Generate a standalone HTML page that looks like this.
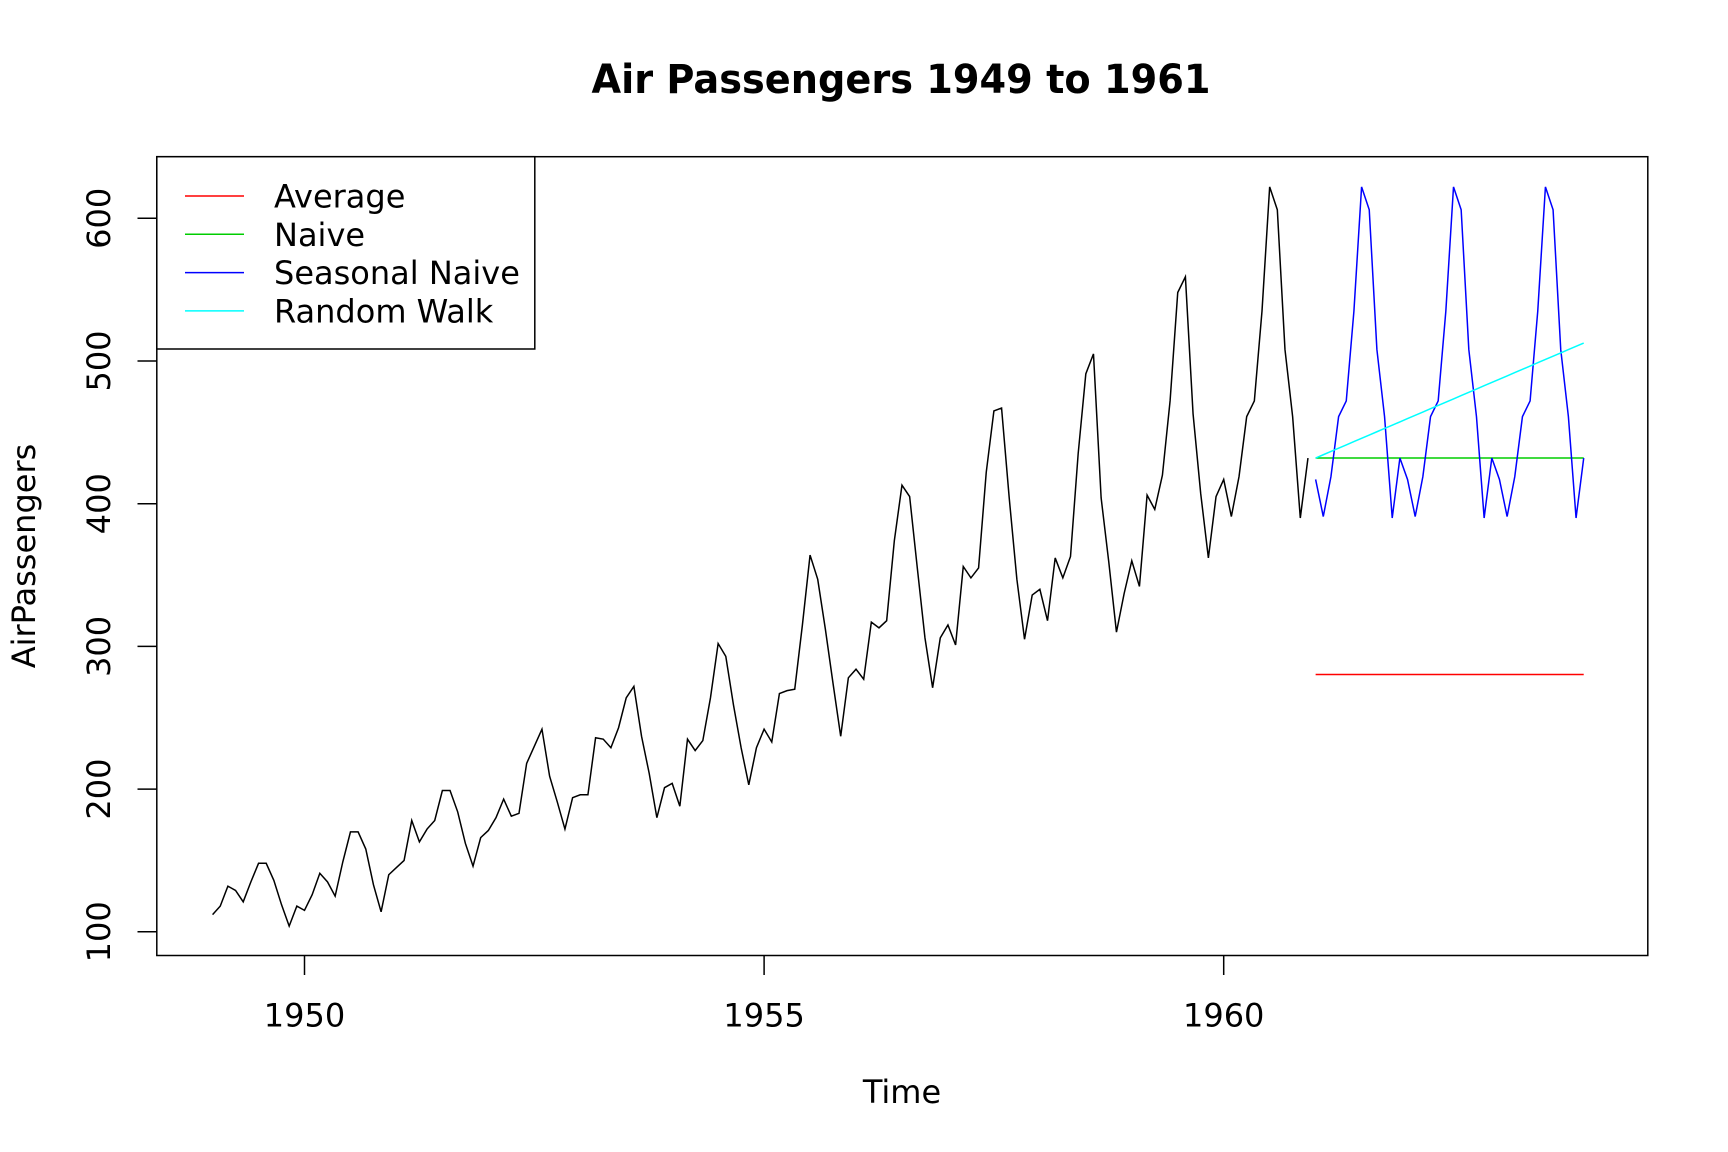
<!DOCTYPE html>
<html><head><meta charset="utf-8"><style>
html,body{margin:0;padding:0;background:#fff;}
svg{display:block;font-family:"DejaVu Sans","Liberation Sans",sans-serif;}
</style></head><body>
<svg id="chart" width="1728" height="1152" viewBox="0 0 1728 1152" xmlns="http://www.w3.org/2000/svg">
<rect width="1728" height="1152" fill="#fff"/>
<text x="901" y="93" text-anchor="middle" font-size="40" font-weight="bold" textLength="619" lengthAdjust="spacingAndGlyphs">Air Passengers 1949 to 1961</text>
<g id="marks"></g>
<rect x="156.8" y="156.7" width="1491" height="798.8" fill="none" stroke="#000" stroke-width="1.5"/>
<g id="axes"></g>
<text x="902" y="1103" text-anchor="middle" font-size="32">Time</text>
<text x="0" y="0" transform="translate(35,556) rotate(-90)" text-anchor="middle" font-size="32">AirPassengers</text>
<g>
<rect x="156.8" y="156.7" width="378" height="192.3" fill="#fff" stroke="#000" stroke-width="1.5"/>
<g id="legend-entries"></g>
</g>
</svg>
<script>
const years = [1949,1950,1951,1952,1953,1954,1955,1956,1957,1958,1959,1960];
const passengers = [
112,118,132,129,121,135,148,148,136,119,104,118,
115,126,141,135,125,149,170,170,158,133,114,140,
145,150,178,163,172,178,199,199,184,162,146,166,
171,180,193,181,183,218,230,242,209,191,172,194,
196,196,236,235,229,243,264,272,237,211,180,201,
204,188,235,227,234,264,302,293,259,229,203,229,
242,233,267,269,270,315,364,347,312,274,237,278,
284,277,317,313,318,374,413,405,355,306,271,306,
315,301,356,348,355,422,465,467,404,347,305,336,
340,318,362,348,363,435,491,505,404,359,310,337,
360,342,406,396,420,472,548,559,463,407,362,405,
417,391,419,461,472,535,622,606,508,461,390,432];
const horizon = 36;
const averageForecast = [280.3];
const naiveForecast = [432];
const seasonalLastYear = [417,391,419,461,472,535,622,606,508,461,390,432];
const randomWalkStart = [432];
const randomWalkEnd = [512.6];
const xTicks = [1950,1955,1960];
const yTicks = [100,200,300,400,500,600];
const legendLabels = ["Average","Naive","Seasonal Naive","Random Walk"];
const legendColors = ["#ff0000","#00cd00","#0000ff","#00ffff"];

const NS="http://www.w3.org/2000/svg";
function X(t){return 304.5+(t-1950)*91.92;}
function Y(v){return 931.8-(v-100)*1.427;}
const marks=document.getElementById('marks');
const axes=document.getElementById('axes');
function poly(pts,color,name){
  const p=document.createElementNS(NS,'polyline');
  p.setAttribute('points',pts.map(q=>X(q[0]).toFixed(2)+','+Y(q[1]).toFixed(2)).join(' '));
  p.setAttribute('fill','none');p.setAttribute('stroke',color);p.setAttribute('stroke-width','1.5');
  
  
  marks.appendChild(p);
}
const start=years[0];
poly(passengers.map((v,i)=>[start+i/12,v]),'#000','air-passengers-line');
const t0=start+passengers.length/12;
const fT=[];for(let h=0;h<horizon;h++)fT.push(t0+h/12);
poly(fT.map(t=>[t,averageForecast[0]]),'#ff0000','average-forecast-line');
poly(fT.map(t=>[t,naiveForecast[0]]),'#00cd00','naive-forecast-line');
poly(fT.map((t,h)=>[t,seasonalLastYear[h%12]]),'#0000ff','seasonal-naive-forecast-line');
poly(fT.map((t,h)=>[t,randomWalkStart[0]+(randomWalkEnd[0]-randomWalkStart[0])*h/(horizon-1)]),'#00ffff','random-walk-forecast-line');

xTicks.forEach(t=>{
  const l=document.createElementNS(NS,'line');
  l.setAttribute('x1',X(t));l.setAttribute('x2',X(t));l.setAttribute('y1',955.5);l.setAttribute('y2',975);
  l.setAttribute('stroke','#000');l.setAttribute('stroke-width','1.5');
  
  
  axes.appendChild(l);
  const tx=document.createElementNS(NS,'text');
  tx.setAttribute('x',X(t));tx.setAttribute('y',1026.5);tx.setAttribute('text-anchor','middle');tx.setAttribute('font-size','32');
  tx.textContent=t;
  
  
  axes.appendChild(tx);
});
yTicks.forEach(v=>{
  const l=document.createElementNS(NS,'line');
  l.setAttribute('x1',137.5);l.setAttribute('x2',156.8);l.setAttribute('y1',Y(v));l.setAttribute('y2',Y(v));
  l.setAttribute('stroke','#000');l.setAttribute('stroke-width','1.5');
  
  
  axes.appendChild(l);
  const tx=document.createElementNS(NS,'text');
  tx.setAttribute('transform','translate(110,'+Y(v)+') rotate(-90)');
  tx.setAttribute('text-anchor','middle');tx.setAttribute('font-size','32');
  tx.textContent=v;
  
  
  axes.appendChild(tx);
});
const lg=document.getElementById('legend-entries');
legendLabels.forEach((lab,i)=>{
  const y=196+i*38.3;
  const l=document.createElementNS(NS,'line');
  l.setAttribute('x1',185);l.setAttribute('x2',244);l.setAttribute('y1',y);l.setAttribute('y2',y);
  l.setAttribute('stroke',legendColors[i]);l.setAttribute('stroke-width','1.5');
  
  
  lg.appendChild(l);
  const tx=document.createElementNS(NS,'text');
  tx.setAttribute('x',274);tx.setAttribute('y',y+11.5);tx.setAttribute('font-size','32');
  tx.textContent=lab;
  
  
  lg.appendChild(tx);
});
</script>
</body></html>
